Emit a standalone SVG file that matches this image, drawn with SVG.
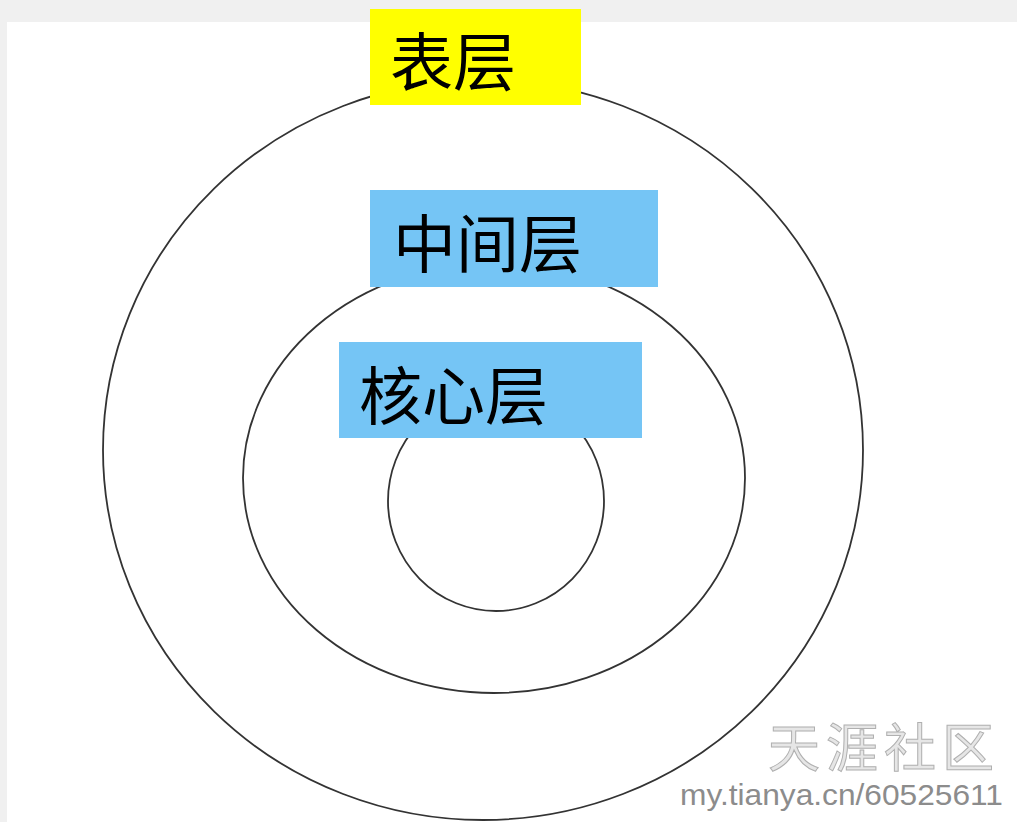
<svg xmlns="http://www.w3.org/2000/svg" width="1017" height="822" viewBox="0 0 1017 822">
<style>
.ring{fill:none;stroke:#333;stroke-width:1.8}
.lbl{font-family:"Noto Sans CJK SC","Noto Sans",sans-serif;font-size:63px;fill:#000}
.wm{font-family:"Noto Sans CJK SC",sans-serif;fill:#e6e6e6;stroke:#b0b0b0;stroke-width:1}
.url{font-family:"Liberation Sans","DejaVu Sans",sans-serif;fill:#8c8c8c}
</style>
<rect x="0" y="0" width="1017" height="822" fill="#f0f0f0"/>
<rect x="7" y="22" width="1010" height="800" fill="#fff"/>
<g id="rings">
<ellipse id="outer" class="ring" cx="483" cy="450" rx="380" ry="370"/>
<ellipse id="middle" class="ring" cx="494" cy="478" rx="251" ry="215"/>
<ellipse id="inner" class="ring" cx="496" cy="501" rx="108" ry="110"/>
</g>
<g id="surface">
<rect x="370" y="9" width="211" height="96" fill="#ffff00"/>
<text class="lbl" x="390" y="85">表层</text>
</g>
<g id="middle-layer">
<rect x="370" y="190" width="288" height="97" fill="#75c5f5"/>
<text class="lbl" x="393" y="267">中间层</text>
</g>
<g id="core">
<rect x="339" y="342" width="303" height="96" fill="#75c5f5"/>
<text class="lbl" x="359" y="419">核心层</text>
</g>
<g id="watermark">
<text class="wm" x="768" y="767" font-size="52" letter-spacing="6">天涯社区</text>
<text class="url" x="1003" y="805" font-size="30" text-anchor="end" textLength="323" lengthAdjust="spacingAndGlyphs">my.tianya.cn/60525611</text>
</g>
</svg>
